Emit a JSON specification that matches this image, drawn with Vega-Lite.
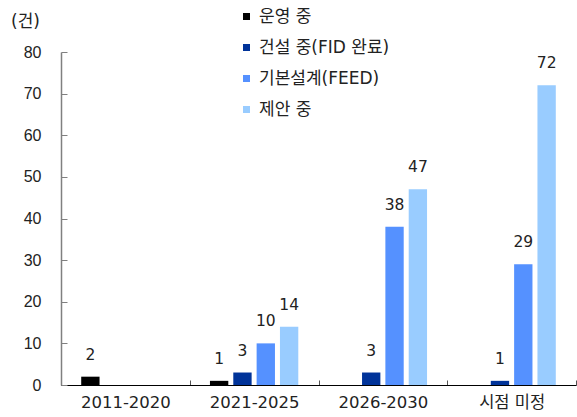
{
  "$schema": "https://vega.github.io/schema/vega-lite/v6.json",
  "width": 515,
  "height": 333,
  "autosize": {"type": "none"},
  "padding": {"left": 61, "top": 52, "right": 1, "bottom": 32},
  "background": "white",
  "config": {
    "view": {"stroke": null},
    "font": "DejaVu Sans, Noto Sans CJK KR"
  },
  "data": {
    "values": [
      {"period": "2011-2020", "status": "운영 중", "count": 2},
      {"period": "2021-2025", "status": "운영 중", "count": 1},
      {"period": "2021-2025", "status": "건설 중(FID 완료)", "count": 3},
      {"period": "2021-2025", "status": "기본설계(FEED)", "count": 10},
      {"period": "2021-2025", "status": "제안 중", "count": 14},
      {"period": "2026-2030", "status": "건설 중(FID 완료)", "count": 3},
      {"period": "2026-2030", "status": "기본설계(FEED)", "count": 38},
      {"period": "2026-2030", "status": "제안 중", "count": 47},
      {"period": "시점 미정", "status": "건설 중(FID 완료)", "count": 1},
      {"period": "시점 미정", "status": "기본설계(FEED)", "count": 29},
      {"period": "시점 미정", "status": "제안 중", "count": 72}
    ]
  },
  "encoding": {
    "x": {
      "field": "period",
      "type": "nominal",
      "sort": ["2011-2020", "2021-2025", "2026-2030", "시점 미정"],
      "scale": {"paddingInner": 0, "paddingOuter": 0},
      "axis": {
        "title": null,
        "labelAngle": 0,
        "tickBand": "extent",
        "tickSize": -5,
        "tickColor": "#555555",
        "domainColor": "#000000",
        "domainWidth": 1,
        "labelFont": "DejaVu Sans, Noto Sans CJK KR",
        "labelFontSize": 16.5,
        "labelColor": "#222222",
        "labelPadding": 14,
        "labelBaseline": "top"
      }
    },
    "xOffset": {
      "field": "status",
      "type": "nominal",
      "sort": ["운영 중", "건설 중(FID 완료)", "기본설계(FEED)", "제안 중"],
      "scale": {"paddingInner": 0.214, "paddingOuter": 0.866}
    },
    "y": {
      "field": "count",
      "type": "quantitative",
      "scale": {"domain": [0, 80], "nice": false},
      "axis": {
        "values": [0, 10, 20, 30, 40, 50, 60, 70, 80],
        "grid": false,
        "title": "(건)",
        "titleAngle": 0,
        "titleX": -36,
        "titleY": -31,
        "titleAlign": "center",
        "titleBaseline": "middle",
        "titleFont": "DejaVu Sans, Noto Sans CJK KR",
        "titleFontSize": 17,
        "titleFontWeight": "normal",
        "titleColor": "#222222",
        "domainColor": "#808080",
        "domainWidth": 1.5,
        "tickColor": "#808080",
        "tickSize": -6,
        "labelFont": "Liberation Sans",
        "labelFontSize": 16,
        "labelColor": "#222222",
        "labelPadding": 26
      }
    }
  },
  "layer": [
    {
      "mark": {"type": "bar"},
      "encoding": {
        "color": {
          "field": "status",
          "type": "nominal",
          "scale": {
            "domain": ["운영 중", "건설 중(FID 완료)", "기본설계(FEED)", "제안 중"],
            "range": ["#000000", "#003399", "#5591FF", "#99CCFF"]
          },
          "legend": {
            "title": null,
            "orient": "none",
            "legendX": 177,
            "legendY": -44,
            "padding": 0,
            "symbolType": "square",
            "symbolSize": 49,
            "symbolStrokeWidth": 0,
            "labelFont": "DejaVu Sans, Noto Sans CJK KR",
            "labelFontSize": 17,
            "labelColor": "#222222",
            "labelOffset": 4,
            "rowPadding": 13,
            "labelLimit": 300
          }
        }
      }
    },
    {
      "mark": {"type": "text", "baseline": "alphabetic", "dy": -17, "fontSize": 15.5, "color": "#222222", "font": "DejaVu Sans"},
      "encoding": {
        "text": {"field": "count", "type": "quantitative"}
      }
    }
  ]
}
